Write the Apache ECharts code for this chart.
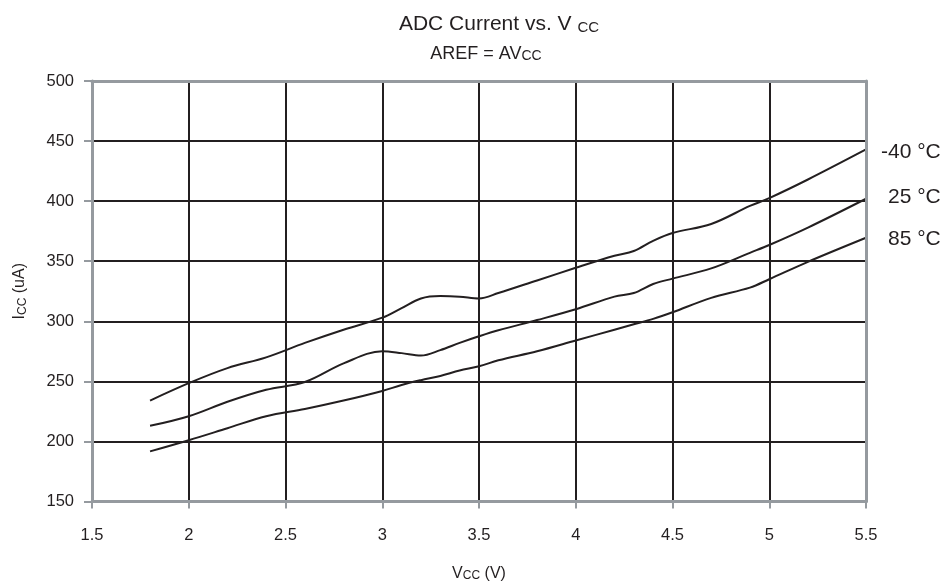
<!DOCTYPE html>
<html>
<head>
<meta charset="utf-8">
<script src="https://cdn.jsdelivr.net/npm/echarts@6/dist/echarts.min.js"></script>
<style>
  html, body { margin: 0; padding: 0; background: #fff; }
  #main { width: 949px; height: 587px; }
</style>
</head>
<body>
<div id="main"></div>
<script>
// supply voltage (V)
var vcc = [1.8, 2.0, 2.2, 2.4, 2.6, 2.8, 3.0, 3.1, 3.2, 3.3, 3.4, 3.5, 3.6, 3.8, 4.0, 4.2, 4.3, 4.4, 4.5, 4.7, 4.9, 5.0, 5.2, 5.5];
// ADC current (uA) per temperature
var iccM40 = [234, 248.5, 261, 270, 282, 293, 303, 311, 319, 321, 320.5, 319, 323.5, 334, 344.5, 354.5, 358.5, 367, 373.5, 381, 396, 402.5, 418, 443];
var icc25 = [213, 221, 233, 243, 249.5, 265, 275, 273.5, 271.5, 276, 282, 287.5, 292.5, 301, 310, 320.5, 323.5, 331, 335.5, 344, 357, 363.5, 378, 402];
var icc85 = [191.7, 201, 211, 221, 227, 234, 242, 247, 251, 254.5, 259, 262.5, 267.5, 275, 284, 293, 297.5, 302, 307.5, 319.5, 328, 335, 349.5, 369.5];
var seriesNames = ['-40 °C', '25 °C', '85 °C'];
var xTicks = [1.5, 5.5, 0.5];   // min, max, step
var yTicks = [150, 500, 50];

var chartDom = document.getElementById('main');
var myChart = echarts.init(chartDom);
var option;

var ink = '#231f20';
var frame = '#959a9f';
var font = 'Liberation Sans, Arial, Helvetica, sans-serif';

function pairs(ys) {
    return vcc.map(function (x, i) { return [x, ys[i]]; });
}

function curve(name, ys, gap, shift) {
    return {
        name: name,
        type: 'line',
        xAxisIndex: 0,
        yAxisIndex: 0,
        data: pairs(ys),
        smooth: 0.35,
        symbol: 'none',
        z: 3,
        lineStyle: { color: ink, width: 2 },
        endLabel: {
            show: true,
            formatter: '{a}',
            color: ink,
            fontSize: 21,
            fontFamily: font,
            distance: gap,
            offset: [0, shift]
        }
    };
}

// plain axes used only to paint the grey frame on top
function frameAxis(pos) {
    return {
        type: 'value',
        position: pos,
        min: 0,
        max: 1,
        z: 5,
        axisLine: { show: true, lineStyle: { color: frame, width: 3 } },
        axisTick: { show: false },
        axisLabel: { show: false },
        splitLine: { show: false }
    };
}

function subRich(big, small, drop) {
    return {
        n: { fontSize: big, color: ink, fontFamily: font, fontWeight: 'normal', lineHeight: big + 4 },
        s: { fontSize: small, color: ink, fontFamily: font, fontWeight: 'normal', lineHeight: small + 3, padding: [0, 0, -drop, 0] }
    };
}

option = {
    animation: false,
    textStyle: { fontFamily: font },
    title: [
        {
            text: '{n|ADC Current vs. V }{s|CC}',
            left: 494,
            top: 7,
            textAlign: 'center',
            textStyle: { fontWeight: 'normal', rich: subRich(21, 15, 6) }
        },
        {
            text: '{n|AREF = AV}{s|CC}',
            left: 481,
            top: 38,
            textAlign: 'center',
            textStyle: { fontWeight: 'normal', rich: subRich(18, 14, 5) }
        }
    ],
    grid: { left: 92, right: 83, top: 81, bottom: 82 },
    xAxis: [
        {
            type: 'value',
            min: xTicks[0],
            max: xTicks[1],
            interval: xTicks[2],
            z: 1,
            name: '{n|V}{s|CC}{n| (V)}',
            nameLocation: 'middle',
            nameGap: 62,
            nameTextStyle: { rich: subRich(16, 12, 5) },
            axisLine: { show: false },
            axisTick: { show: true, length: 7, lineStyle: { color: frame, width: 2 } },
            axisLabel: { color: ink, fontSize: 16.5, margin: 25 },
            splitLine: { show: true, lineStyle: { color: ink, width: 2 } }
        },
        frameAxis('bottom'),
        frameAxis('top')
    ],
    yAxis: [
        {
            type: 'value',
            min: yTicks[0],
            max: yTicks[1],
            interval: yTicks[2],
            z: 1,
            name: '{n|I}{s|CC}{n| (uA)}',
            nameLocation: 'middle',
            nameRotate: 90,
            nameGap: 62,
            nameTextStyle: { rich: subRich(16, 12, 5) },
            axisLine: { show: false },
            axisTick: { show: true, length: 8, lineStyle: { color: frame, width: 2 } },
            axisLabel: { color: ink, fontSize: 16.5, margin: 18 },
            splitLine: { show: true, lineStyle: { color: ink, width: 2 } }
        },
        frameAxis('left'),
        frameAxis('right')
    ],
    series: [
        curve(seriesNames[0], iccM40, 15, 3),
        curve(seriesNames[1], icc25, 22, -2),
        curve(seriesNames[2], icc85, 22, 1)
    ]
};

option && myChart.setOption(option);
</script>
</body>
</html>
